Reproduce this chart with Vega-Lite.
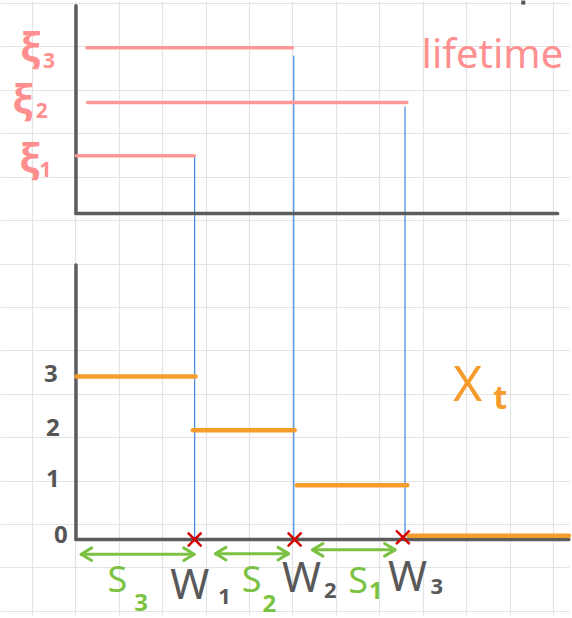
{
  "$schema": "https://vega.github.io/schema/vega-lite/v6.json",
  "width": 572,
  "height": 618,
  "autosize": {"type": "fit", "contains": "padding"},
  "padding": 0,
  "background": "white",
  "config": {"view": {"stroke": null}, "text": {"font": "Noto Sans"}},
  "datasets": {
    "axislines": [
      {"t": 0.02, "u": 9.82, "t2": 0.02, "u2": 6},
      {"t": 0.02, "u": 6, "t2": 11.1, "u2": 6},
      {"t": 0.02, "u": 5.05, "t2": 0.02, "u2": 0},
      {"t": 0.02, "u": 0, "t2": 11.36, "u2": 0}
    ],
    "links": [
      {"name": "W1", "t": 2.75, "u": 7.06, "t2": 2.75, "u2": 0},
      {"name": "W2", "t": 5.03, "u": 8.9, "t2": 5.03, "u2": 0},
      {"name": "W3", "t": 7.59, "u": 7.97, "t2": 7.59, "u2": 0}
    ],
    "lifetimes": [
      {"name": "xi3", "t": 0.27, "t2": 5.0, "u": 9.05, "u2": 9.05},
      {"name": "xi2", "t": 0.29, "t2": 7.63, "u": 8.04, "u2": 8.04},
      {"name": "xi1", "t": 0.03, "t2": 2.74, "u": 7.06, "u2": 7.06}
    ],
    "xt": [
      {"level": 3, "t": 0.03, "t2": 2.77, "u": 3.0, "u2": 3.0},
      {"level": 2, "t": 2.71, "t2": 5.05, "u": 2.01, "u2": 2.01},
      {"level": 1, "t": 5.1, "t2": 7.64, "u": 1.0, "u2": 1.0},
      {"level": 0, "t": 7.67, "t2": 11.36, "u": 0.07, "u2": 0.07}
    ],
    "arrows": [
      {"name": "S3", "t": 0.14, "t2": 2.74, "u": -0.27, "u2": -0.27},
      {"name": "S2", "t": 3.23, "t2": 4.91, "u": -0.26, "u2": -0.26},
      {"name": "S1", "t": 5.46, "t2": 7.36, "u": -0.19, "u2": -0.19}
    ],
    "heads": [
      {"side": "left", "t": 0.14, "u": -0.27},
      {"side": "right", "t": 2.74, "u": -0.27},
      {"side": "left", "t": 3.23, "u": -0.26},
      {"side": "right", "t": 4.91, "u": -0.26},
      {"side": "left", "t": 5.46, "u": -0.19},
      {"side": "right", "t": 7.36, "u": -0.19}
    ],
    "jumps": [
      {"name": "W1", "t": 2.75, "u": 0.0},
      {"name": "W2", "t": 5.05, "u": 0.0},
      {"name": "W3", "t": 7.54, "u": 0.04}
    ],
    "ticklabels": [
      {"label": "3", "t": -0.56, "u": 3.03},
      {"label": "2", "t": -0.51, "u": 2.03},
      {"label": "1", "t": -0.51, "u": 1.1},
      {"label": "0", "t": -0.33, "u": 0.07}
    ],
    "ximain": [
      {"label": "ξ", "t": -1.02, "u": 9.03},
      {"label": "ξ", "t": -1.2, "u": 8.06},
      {"label": "ξ", "t": -1.04, "u": 6.98}
    ],
    "xisub": [
      {"label": "3", "t": -0.6, "u": 8.78},
      {"label": "2", "t": -0.77, "u": 7.86},
      {"label": "1", "t": -0.68, "u": 6.78}
    ],
    "smain": [
      {"label": "S", "t": 0.97, "u": -0.77},
      {"label": "S", "t": 4.06, "u": -0.77},
      {"label": "S", "t": 6.51, "u": -0.79}
    ],
    "ssub": [
      {"label": "3", "t": 1.52, "u": -1.19},
      {"label": "2", "t": 4.47, "u": -1.21},
      {"label": "1", "t": 6.92, "u": -0.97}
    ],
    "wmain": [
      {"label": "W", "t": 2.64, "u": -0.86},
      {"label": "W", "t": 5.21, "u": -0.73},
      {"label": "W", "t": 7.65, "u": -0.71}
    ],
    "wsub": [
      {"label": "1", "t": 3.44, "u": -1.06},
      {"label": "2", "t": 5.87, "u": -0.95},
      {"label": "3", "t": 8.32, "u": -0.88}
    ],
    "lifetimeLabel": [{"label": "lifetime", "t": 9.6, "u": 8.9}],
    "xLabel": [{"label": "X", "t": 9.03, "u": 2.82}],
    "tLabel": [{"label": "t", "t": 9.78, "u": 2.58}],
    "stray": [{"t": 10.31, "u": 9.88}]
  },
  "encoding": {
    "x": {
      "field": "t",
      "type": "quantitative",
      "scale": {"domain": [-1.728, 11.362], "nice": false, "zero": false},
      "axis": {
        "values": [-1, 0, 1, 2, 3, 4, 5, 6, 7, 8, 9, 10, 11],
        "grid": true, "gridColor": "#e3e3e3", "gridWidth": 1.2,
        "labels": false, "ticks": false, "domain": false, "title": null
      }
    },
    "y": {
      "field": "u",
      "type": "quantitative",
      "scale": {"domain": [-1.389, 9.909], "nice": false, "zero": false},
      "axis": {
        "values": [9.872, 9.073, 8.274, 7.475, 6.676, 5.877, 5.078, 4.279, 3.48, 2.681, 1.883, 1.084, 0.285, -0.514, -1.313],
        "grid": true, "gridColor": "#e3e3e3", "gridWidth": 1.2,
        "labels": false, "ticks": false, "domain": false, "title": null
      }
    }
  },
  "layer": [
    {
      "data": {"name": "links"},
      "mark": {"type": "rule", "color": "#3f8ae4", "strokeWidth": 1.2},
      "encoding": {"x2": {"field": "t2"}, "y2": {"field": "u2"}}
    },
    {
      "data": {"name": "axislines"},
      "mark": {"type": "rule", "color": "#5c5c5c", "strokeWidth": 3.5, "strokeCap": "round"},
      "encoding": {"x2": {"field": "t2"}, "y2": {"field": "u2"}}
    },
    {
      "data": {"name": "lifetimes"},
      "mark": {"type": "rule", "color": "#ff9797", "strokeWidth": 3.5, "strokeCap": "round"},
      "encoding": {"x2": {"field": "t2"}, "y2": {"field": "u2"}}
    },
    {
      "data": {"name": "xt"},
      "mark": {"type": "rule", "color": "#f59c2c", "strokeWidth": 4.5, "strokeCap": "round"},
      "encoding": {"x2": {"field": "t2"}, "y2": {"field": "u2"}}
    },
    {
      "data": {"name": "arrows"},
      "mark": {"type": "rule", "color": "#7cc242", "strokeWidth": 3, "strokeCap": "round"},
      "encoding": {"x2": {"field": "t2"}, "y2": {"field": "u2"}}
    },
    {
      "data": {"name": "heads"},
      "transform": [{"filter": "datum.side === 'left'"}],
      "mark": {"type": "point", "shape": "M1,-0.6L0,0L1,0.6", "filled": false, "stroke": "#7cc242", "strokeWidth": 3, "strokeCap": "round", "strokeJoin": "round", "size": 440, "opacity": 1}
    },
    {
      "data": {"name": "heads"},
      "transform": [{"filter": "datum.side === 'right'"}],
      "mark": {"type": "point", "shape": "M-1,-0.6L0,0L-1,0.6", "filled": false, "stroke": "#7cc242", "strokeWidth": 3, "strokeCap": "round", "strokeJoin": "round", "size": 440, "opacity": 1}
    },
    {
      "data": {"name": "jumps"},
      "mark": {"type": "point", "shape": "M-1,-1L1,1M-1,1L1,-1", "filled": false, "stroke": "#d40000", "strokeWidth": 2.5, "strokeCap": "round", "size": 150, "opacity": 1}
    },
    {
      "data": {"name": "ticklabels"},
      "mark": {"type": "text", "color": "#555555", "fontSize": 24, "fontWeight": "bold", "align": "center", "baseline": "middle"},
      "encoding": {"text": {"field": "label"}}
    },
    {
      "data": {"name": "ximain"},
      "mark": {"type": "text", "color": "#ff8f8f", "fontSize": 40, "fontWeight": "bold", "align": "center", "baseline": "middle"},
      "encoding": {"text": {"field": "label"}}
    },
    {
      "data": {"name": "xisub"},
      "mark": {"type": "text", "color": "#ff8f8f", "fontSize": 21, "fontWeight": "bold", "align": "center", "baseline": "middle"},
      "encoding": {"text": {"field": "label"}}
    },
    {
      "data": {"name": "smain"},
      "mark": {"type": "text", "color": "#7cc242", "fontSize": 36, "align": "center", "baseline": "middle"},
      "encoding": {"text": {"field": "label"}}
    },
    {
      "data": {"name": "ssub"},
      "mark": {"type": "text", "color": "#7cc242", "fontSize": 24, "fontWeight": "bold", "align": "center", "baseline": "middle"},
      "encoding": {"text": {"field": "label"}}
    },
    {
      "data": {"name": "wmain"},
      "mark": {"type": "text", "color": "#595959", "fontSize": 42, "align": "center", "baseline": "middle"},
      "encoding": {"text": {"field": "label"}}
    },
    {
      "data": {"name": "wsub"},
      "mark": {"type": "text", "color": "#595959", "fontSize": 22, "fontWeight": "bold", "align": "center", "baseline": "middle"},
      "encoding": {"text": {"field": "label"}}
    },
    {
      "data": {"name": "lifetimeLabel"},
      "mark": {"type": "text", "color": "#ff9090", "fontSize": 40, "align": "center", "baseline": "middle"},
      "encoding": {"text": {"field": "label"}}
    },
    {
      "data": {"name": "xLabel"},
      "mark": {"type": "text", "color": "#f59c2c", "fontSize": 50, "align": "center", "baseline": "middle"},
      "encoding": {"text": {"field": "label"}}
    },
    {
      "data": {"name": "tLabel"},
      "mark": {"type": "text", "color": "#f59c2c", "fontSize": 32, "fontWeight": "bold", "align": "center", "baseline": "middle"},
      "encoding": {"text": {"field": "label"}}
    },
    {
      "data": {"name": "stray"},
      "mark": {"type": "point", "shape": "square", "filled": true, "color": "#555555", "size": 16, "opacity": 1}
    }
  ]
}
